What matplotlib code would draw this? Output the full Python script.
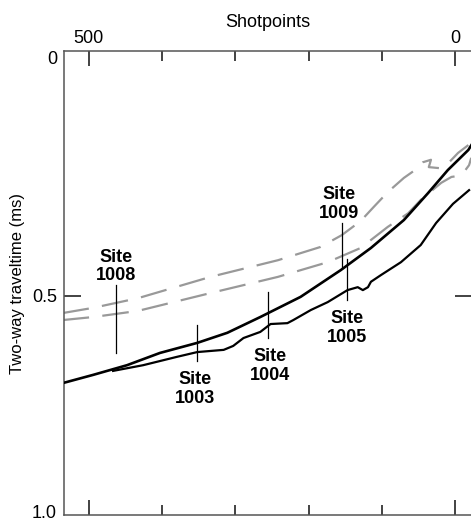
import numpy as np
import matplotlib
matplotlib.use("Agg")
import matplotlib.pyplot as plt
import matplotlib.transforms as mtransforms

plt.rcParams["font.family"] = ["Liberation Sans", "DejaVu Sans"]

# upper reflector (solid)
upper_sp = [536, 494, 448, 403, 352, 311, 266, 211, 156, 115, 70, 37, 10, -18, -23]
upper_twt = [0.699, 0.680, 0.658, 0.630, 0.607, 0.584, 0.548, 0.502, 0.447, 0.402,
             0.345, 0.290, 0.243, 0.202, 0.190]

# lower reflector (solid)
lower_sp = [467, 426, 380, 352, 316, 303, 289, 266, 252, 229, 221, 197, 174, 147,
            133, 126, 119, 115, 101, 74, 47, 26, 3, -19]
lower_twt = [0.671, 0.658, 0.639, 0.628, 0.623, 0.614, 0.596, 0.582, 0.564, 0.562,
             0.555, 0.532, 0.514, 0.488, 0.482, 0.488, 0.482, 0.471, 0.457, 0.431,
             0.396, 0.351, 0.312, 0.284]

# dashed horizons
dash1_sp = [536, 494, 433, 334, 242, 184, 155, 129, 111, 92, 70, 51, 44, 33, 36, 22,
            12, -4, -18]
dash1_twt = [0.539, 0.527, 0.505, 0.461, 0.427, 0.400, 0.376, 0.347, 0.318, 0.288,
             0.259, 0.239, 0.227, 0.222, 0.237, 0.239, 0.233, 0.208, 0.192]

dash2_sp = [536, 494, 433, 334, 242, 174, 129, 92, 64, 47, 19, 5, -4, -12, -19, -22]
dash2_twt = [0.555, 0.548, 0.534, 0.494, 0.461, 0.431, 0.402, 0.359, 0.331, 0.304,
             0.269, 0.257, 0.255, 0.247, 0.233, 0.218]

# drill sites: location, marker top/bottom, label side
site_names = ["1008", "1009", "1005", "1004", "1003"]
site_sp = [463, 155, 147, 255, 352]
site_top = [0.478, 0.351, 0.425, 0.492, 0.566]
site_bot = [0.630, 0.443, 0.509, 0.596, 0.648]
site_label_above = [True, True, False, False, False]
site_label_dx = [0, -2, 0, 1, -1.5]


def fwd(v):
    v = np.asarray(v, dtype=float)
    return np.where(v <= 0.5, v * 1.056, 0.528 + (v - 0.5) * 0.944)


def inv(u):
    u = np.asarray(u, dtype=float)
    return np.where(u <= 0.528, u / 1.056, 0.5 + (u - 0.528) / 0.944)


fig = plt.figure(figsize=(4.71, 5.23), dpi=100)
ax = fig.add_axes([64 / 471, 8 / 523, 408 / 471, 464 / 523])
ax.set_yscale("function", functions=(fwd, inv))

gray = "#999999"
ax.plot(dash1_sp, dash1_twt, color=gray, lw=1.6, ls=(0, (12, 6)), zorder=2)
ax.plot(dash2_sp, dash2_twt, color=gray, lw=1.6, ls=(0, (12, 6)), zorder=2)
ax.plot(upper_sp, upper_twt, color="black", lw=1.9, zorder=3, solid_joinstyle="round")
ax.plot(lower_sp, lower_twt, color="black", lw=1.6, zorder=3, solid_joinstyle="round")

for name, sp, top, bot, above, dx in zip(site_names, site_sp, site_top, site_bot,
                                         site_label_above, site_label_dx):
    ax.plot([sp, sp], [top, bot], color="black", lw=0.9, zorder=4)
    if above:
        ax.annotate(f"Site\n{name}", xy=(sp, top), xytext=(dx, 1), textcoords="offset points",
                    ha="center", va="bottom", fontsize=13, fontweight="bold",
                    linespacing=1.1)
    else:
        ax.annotate(f"Site\n{name}", xy=(sp, bot), xytext=(dx, -7.5), textcoords="offset points",
                    ha="center", va="top", fontsize=13, fontweight="bold",
                    linespacing=1.1)

ax.set_xlim(534, -23)
ax.set_ylim(1.0, 0.0)

# x axis on top
ax.set_xticks([500, 0])
ax.set_xticklabels(["500", "0"])
ax.set_xticks([400, 300, 200, 100], minor=True)
ax.xaxis.set_ticks_position("both")
ax.xaxis.set_label_position("top")
ax.tick_params(axis="x", which="both", direction="in", labeltop=True, labelbottom=False,
               labelsize=13, pad=3, color="#222222", width=1.2)
ax.tick_params(axis="x", which="major", length=11)
ax.tick_params(axis="x", which="minor", length=7.5)
ax.set_xlabel("Shotpoints", fontsize=13, labelpad=2)

# y axis
ax.set_yticks([0.5])
ax.set_yticklabels(["0.5"])
ax.set_yticks([0.0, 1.0], minor=True)
ax.set_yticklabels(["0", "1.0"], minor=True)
ax.tick_params(axis="y", which="major", direction="in", left=True, right=True,
               length=12, width=1.2, color="#222222", labelsize=13, pad=5)
ax.tick_params(axis="y", which="minor", length=0, labelsize=13, pad=5)
ylab_minor = ax.get_yticklabels(minor=True)
ylab_minor[0].set_va("top")
ylab_minor[1].set_transform(ylab_minor[1].get_transform()
                            + mtransforms.ScaledTranslation(0, 3.5 / 100, fig.dpi_scale_trans))
ax.set_ylabel("Two-way traveltime (ms)", fontsize=12, labelpad=5)

for side in ["left", "top", "bottom"]:
    ax.spines[side].set_color("#555555")
    ax.spines[side].set_linewidth(1.1)
ax.spines["right"].set_visible(False)

fig.savefig("out.png", dpi=100)
